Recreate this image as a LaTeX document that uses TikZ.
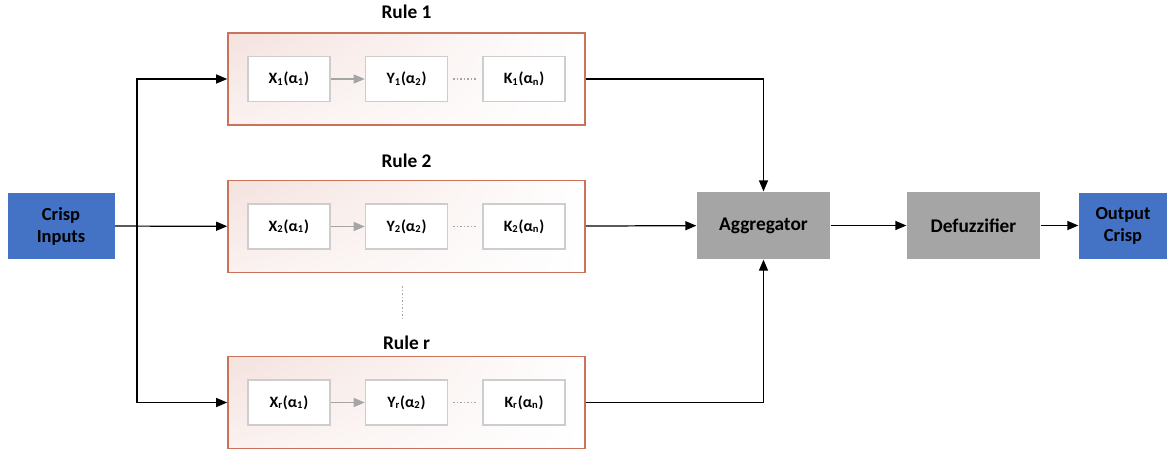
\documentclass[tikz,border=0pt]{standalone}
\usepackage{fontspec}
\setmainfont{Carlito}
\usetikzlibrary{positioning, arrows.meta, shadings}

\definecolor{crispblue}{RGB}{68,114,196}
\definecolor{blockgrey}{RGB}{165,165,165}
\definecolor{ruleedge}{RGB}{200,115,90}
\definecolor{rulepink}{RGB}{244,226,222}
\definecolor{cellgrey}{RGB}{205,205,205}
\definecolor{linkgrey}{RGB}{165,165,165}

\begin{document}
\begin{tikzpicture}[
    >={Triangle[length = 2.2mm, width = 1.8mm]},
    line width = 0.7pt,
    crisp/.style = {fill = crispblue, align = center, minimum height = 1.32cm,
        font = \bfseries\fontsize{10.5}{12.5}\selectfont},
    block/.style = {fill = blockgrey, minimum width = 2.66cm, minimum height = 1.34cm,
        font = \bfseries\fontsize{11}{13}\selectfont},
    rulebox/.style = {draw = ruleedge, line width = 0.9pt, minimum width = 7.14cm,
        minimum height = 1.84cm, upper left = rulepink, upper right = white,
        lower left = rulepink!45!white, lower right = white},
    cell/.style = {draw = cellgrey, fill = white, line width = 0.9pt, minimum width = 1.64cm,
        minimum height = 0.9cm, font = \bfseries\fontsize{9}{11}\selectfont},
    rulename/.style = {font = \bfseries\fontsize{11}{13}\selectfont},
    dots/.style = {linkgrey, line width = 1pt, dash pattern = on 0.8pt off 1.2pt}
]
\useasboundingbox (0,0) rectangle (23.34,-9);

\node[crisp, minimum width = 2.14cm] (inputs) at (1.22,-4.52) {Crisp\\Inputs};
\coordinate (bus) at (2.74,-4.52);

% rules
\node[rulebox] (rule1) at (8.13,-1.58) {};
\node[rulebox] (rule2) at (8.13,-4.53) {};
\node[rulebox] (ruler) at (8.13,-8.05) {};
\node[rulename, above = 0.14cm of rule1] (lab1) {Rule 1};
\node[rulename, above = 0.12cm of rule2] (lab2) {Rule 2};
\node[rulename, above = 0.0cm of ruler] (labr) {Rule r};

\node[cell] (y1) at (rule1.center) {Y\textsubscript{1}(α\textsubscript{2})};
\node[cell, left = 0.68cm of y1] (x1) {X\textsubscript{1}(α\textsubscript{1})};
\node[cell, right = 0.68cm of y1] (k1) {K\textsubscript{1}(α\textsubscript{n})};
\node[cell] (y2) at (rule2.center) {Y\textsubscript{2}(α\textsubscript{2})};
\node[cell, left = 0.68cm of y2] (x2) {X\textsubscript{2}(α\textsubscript{1})};
\node[cell, right = 0.68cm of y2] (k2) {K\textsubscript{2}(α\textsubscript{n})};
\node[cell] (yr) at (ruler.center) {Y\textsubscript{r}(α\textsubscript{2})};
\node[cell, left = 0.68cm of yr] (xr) {X\textsubscript{r}(α\textsubscript{1})};
\node[cell, right = 0.68cm of yr] (kr) {K\textsubscript{r}(α\textsubscript{n})};

% right side
\node[block] (agg) at (15.27,-4.51) {Aggregator};
\node[block] (defuzz) at (19.47,-4.51) {Defuzzifier};
\node[crisp, minimum width = 1.76cm] (output) at (22.46,-4.51) {Output\\Crisp};

% arrows
\draw[->] (inputs) -- (rule2);
\draw[->] (bus) |- (rule1.west);
\draw[->] (bus) |- (ruler.west);
\foreach \r in {1,2,r} {
    \draw[->, linkgrey] (x\r) -- (y\r);
    \draw[dots] ([xshift = 0.1cm]y\r.east) -- ([xshift = -0.1cm]k\r.west);
}
\draw[dots] ([xshift = -0.08cm, yshift = -0.26cm]rule2.south) -- ([xshift = -0.08cm, yshift = 0.16cm]labr.north);
\draw[->] (rule1.east) -| (agg.north);
\draw[->] (rule2) -- (agg);
\draw[->] (ruler.east) -| (agg.south);
\draw[->] (agg) -- (defuzz);
\draw[->] (defuzz) -- (output);

\end{tikzpicture}
\end{document}
